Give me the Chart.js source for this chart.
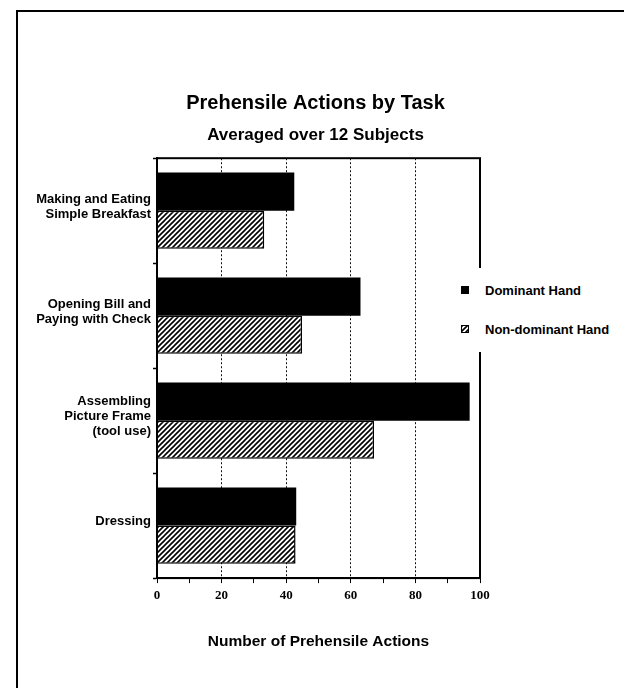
<!DOCTYPE html>
<html><head><meta charset="utf-8">
<script src="https://cdn.jsdelivr.net/npm/chart.js@4"></script>
<style>
html,body{margin:0;padding:0;background:#fff;overflow:hidden;}
#wrap{position:relative;width:624px;height:688px;overflow:hidden;}
#frame{position:absolute;left:16px;top:10px;width:700px;height:800px;border-top:2px solid #000;border-left:2px solid #000;}
canvas{position:absolute;left:0;top:0;}
#legend{position:absolute;left:457px;top:268px;width:167px;height:84px;background:#fff;font:bold 13px "Liberation Sans",Arial,sans-serif;color:#000;}
.item{position:absolute;left:4px;display:flex;align-items:center;height:16px;white-space:nowrap;}
.sw{width:8px;height:8px;box-sizing:border-box;margin-right:16px;flex:none;}
</style></head>
<body><div id="wrap"><div id="frame"></div><canvas id="c" width="624" height="688"></canvas><div id="legend"></div></div>
<script>
// ---- data ----
const categories = [
  ['Making and Eating', 'Simple Breakfast'],
  ['Opening Bill and', 'Paying with Check'],
  ['Assembling', 'Picture Frame', '(tool use)'],
  ['Dressing']
];
const seriesNames = ['Dominant Hand', 'Non-dominant Hand'];
const dominantHand = [42.5, 63, 96.8, 43.1];
const nonDominantHand = [33.2, 44.9, 67.2, 42.9];
const xTicks = [0, 20, 40, 60, 80, 100];
const chartTitle = 'Prehensile Actions by Task';
const chartSubtitle = 'Averaged over 12 Subjects';
const xAxisTitle = 'Number of Prehensile Actions';

// ---- hatch pattern ----
function makeTile() {
  const t = document.createElement('canvas');
  t.width = 5; t.height = 5;
  const g = t.getContext('2d');
  g.fillStyle = '#fff'; g.fillRect(0, 0, 5, 5);
  g.strokeStyle = '#000'; g.lineWidth = 1.6;
  g.beginPath();
  g.moveTo(-1, 6); g.lineTo(6, -1);
  g.moveTo(-1, 1); g.lineTo(1, -1);
  g.moveTo(4, 6); g.lineTo(6, 4);
  g.stroke();
  return t;
}
const tile = makeTile();
const ctx = document.getElementById('c').getContext('2d');
const hatch = ctx.createPattern(tile, 'repeat');

const SANS = '"Liberation Sans", Arial, Helvetica, sans-serif';
const SERIF = '"Liberation Serif", "Times New Roman", serif';

const boxPlugin = {
  id: 'box',
  afterDraw(chart) {
    const c = chart.ctx, a = chart.chartArea;
    c.save();
    c.strokeStyle = '#000';
    c.lineWidth = 2;
    c.strokeRect(a.left, a.top, a.right - a.left, a.bottom - a.top);
    c.restore();
  }
};

const chart = new Chart(ctx, {
  type: 'bar',
  data: {
    labels: categories,
    datasets: [
      { label: seriesNames[0], data: dominantHand, backgroundColor: '#000', borderColor: '#000', borderWidth: 0 },
      { label: seriesNames[1], data: nonDominantHand, backgroundColor: hatch, borderColor: '#000', borderWidth: 1.5 }
    ]
  },
  options: {
    indexAxis: 'y',
    responsive: false,
    animation: false,
    categoryPercentage: 0.727,
    barPercentage: 1.0,
    layout: { padding: { left: 7, right: 0, top: 0, bottom: 33.7 } },
    plugins: {
      legend: { display: false },
      tooltip: { enabled: false },
      title: {
        display: true, text: chartTitle, color: '#000',
        font: { family: SANS, size: 20, weight: 'bold' },
        padding: { top: 91, bottom: 10 }
      },
      subtitle: {
        display: true, text: chartSubtitle, color: '#000',
        font: { family: SANS, size: 17, weight: 'bold' },
        padding: { top: 0, bottom: 12.8 }
      }
    },
    scales: {
      x: {
        type: 'linear', min: 0, max: 100,
        ticks: {
          stepSize: 10, autoSkip: false, maxRotation: 0, padding: 5, color: '#000',
          font: { family: SERIF, size: 13, weight: 'bold' },
          callback: (v) => xTicks.includes(v) ? String(v) : ''
        },
        grid: {
          color: (c) => (c.tick && xTicks.includes(c.tick.value) && c.tick.value > 0 && c.tick.value < 100) ? '#111' : 'rgba(0,0,0,0)',
          lineWidth: 1,
          tickColor: '#000', tickLength: 5, tickWidth: 1
        },
        border: { display: true, color: '#000', width: 2, dash: [2, 2] },
        title: {
          display: true, text: xAxisTitle, color: '#000',
          font: { family: SANS, size: 15.5, weight: 'bold' },
          padding: { top: 24, bottom: 3 }
        }
      },
      y: {
        type: 'category',
        position: 'left',
        afterFit(scale) { scale.width = 150; },
        ticks: {
          color: '#000', padding: 2, labelOffset: -4, autoSkip: false,
          font: { family: SANS, size: 13, weight: 'bold', lineHeight: 1.15 }
        },
        grid: { drawOnChartArea: false, offset: true, tickLength: 4, tickColor: '#000', tickWidth: 1.5 },
        border: { display: true, color: '#000', width: 2 }
      },
      gutter: {
        type: 'linear',
        axis: 'y',
        position: 'right',
        display: true,
        afterFit(scale) { scale.width = 144; },
        ticks: { display: false },
        grid: { display: false, drawTicks: false },
        border: { display: false }
      }
    }
  },
  plugins: [boxPlugin]
});

// ---- HTML legend built from the chart's datasets ----
const legendEl = document.getElementById('legend');
const tops = [14, 53];
chart.data.datasets.forEach((ds, i) => {
  const item = document.createElement('div');
  item.className = 'item';
  item.style.top = tops[i] + 'px';
  const sw = document.createElement('span');
  sw.className = 'sw';
  if (i === 0) { sw.style.background = '#000'; }
  else { sw.style.backgroundImage = 'url(' + tile.toDataURL() + ')'; sw.style.border = '1.5px solid #000'; }
  const tx = document.createElement('span');
  tx.textContent = ds.label;
  item.appendChild(sw); item.appendChild(tx);
  legendEl.appendChild(item);
});
</script>
</body></html>
